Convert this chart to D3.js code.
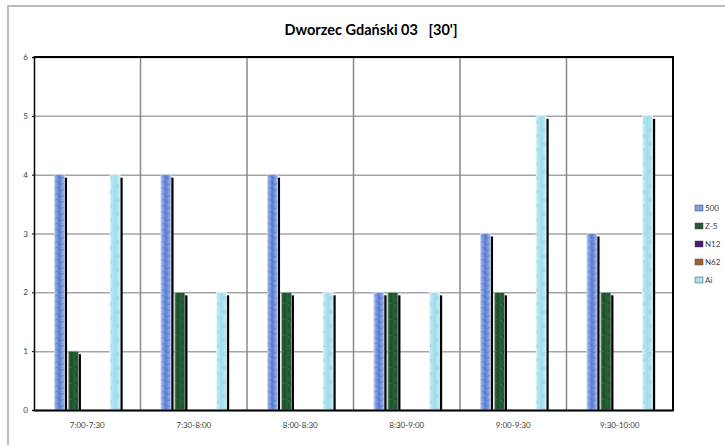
<!DOCTYPE html>
<html>
<head>
<meta charset="utf-8">
<script src="https://cdn.jsdelivr.net/npm/d3@7"></script>
<style>
  html, body { margin: 0; padding: 0; background: #fff; }
  svg { display: block; }
  text { font-family: Lato, "Open Sans", sans-serif; }
</style>
</head>
<body>
<svg id="chart" width="725" height="445"></svg>
<script>
const title = "Dworzec Gdański 03   [30']";
const categories = ["7:00-7:30", "7:30-8:00", "8:00-8:30", "8:30-9:00", "9:00-9:30", "9:30-10:00"];
const seriesNames = ["500", "Z-5", "N12", "N62", "Ai"];
const values500 = [4, 4, 4, 2, 3, 3];
const valuesZ5 = [1, 2, 2, 2, 2, 2];
const valuesN12 = [0, 0, 0, 0, 0, 0];
const valuesN62 = [0, 0, 0, 0, 0, 0];
const valuesAi = [4, 2, 2, 2, 5, 5];
const yTicks = [0, 1, 2, 3, 4, 5, 6];

const seriesValues = [values500, valuesZ5, valuesN12, valuesN62, valuesAi];

const svg = d3.select("#chart");
const W = 725, H = 445;
const plot = { left: 34, right: 673, top: 57, bottom: 410 };

// defs: fills imitating textured bars
const defs = svg.append("defs");
function hGrad(id, stops) {
  const g = defs.append("linearGradient").attr("id", id)
    .attr("x1", "0%").attr("x2", "100%").attr("y1", "0%").attr("y2", "0%");
  stops.forEach(s => g.append("stop").attr("offset", s[0]).attr("stop-color", s[1]));
}
hGrad("g500", [["0%", "#a9c0ee"], ["25%", "#7d9be0"], ["50%", "#5d7fcf"], ["75%", "#7d9be0"], ["100%", "#a9c0ee"]]);
hGrad("gZ5", [["0%", "#2f6e40"], ["30%", "#1d4f2b"], ["60%", "#276238"], ["100%", "#17462a"]]);
hGrad("gN12", [["0%", "#6a3a9a"], ["100%", "#3e1466"]]);
hGrad("gN62", [["0%", "#b8703c"], ["100%", "#8a4a20"]]);
hGrad("gAi", [["0%", "#c4eef6"], ["50%", "#9fdcea"], ["100%", "#c4eef6"]]);

// texture overlays
const p500 = defs.append("pattern").attr("id", "t500").attr("patternUnits", "userSpaceOnUse")
  .attr("width", 10).attr("height", 6);
p500.append("path").attr("d", "M0,3 Q2.5,0 5,3 T10,3").attr("fill", "none")
  .attr("stroke", "#3f63b8").attr("stroke-opacity", 0.35).attr("stroke-width", 1.2);
const pAi = defs.append("pattern").attr("id", "tAi").attr("patternUnits", "userSpaceOnUse")
  .attr("width", 10).attr("height", 14);
pAi.append("circle").attr("cx", 4).attr("cy", 4).attr("r", 1.6).attr("fill", "none")
  .attr("stroke", "#6fbccd").attr("stroke-opacity", 0.6).attr("stroke-width", 0.7);
pAi.append("circle").attr("cx", 7).attr("cy", 10).attr("r", 1.1).attr("fill", "none")
  .attr("stroke", "#6fbccd").attr("stroke-opacity", 0.6).attr("stroke-width", 0.7);
const pZ5 = defs.append("pattern").attr("id", "tZ5").attr("patternUnits", "userSpaceOnUse")
  .attr("width", 10).attr("height", 16);
pZ5.append("path").attr("d", "M1,0 Q6,5 3,9 T8,16").attr("fill", "none")
  .attr("stroke", "#5a9a68").attr("stroke-opacity", 0.45).attr("stroke-width", 0.8);

const fills = { "500": "url(#g500)", "Z-5": "url(#gZ5)", "N12": "url(#gN12)", "N62": "url(#gN62)", "Ai": "url(#gAi)" };
const textures = { "500": "url(#t500)", "Z-5": "url(#tZ5)", "N12": null, "N62": null, "Ai": "url(#tAi)" };
const edges = { "500": "#c8d6f4", "Z-5": "#a8b8ac", "N12": "#9a7ac0", "N62": "#d09a70", "Ai": "#e4f8fc" };
const legendColors = { "500": "#7f9fe0", "Z-5": "#245a33", "N12": "#4a1a78", "N62": "#a0602e", "Ai": "#a8e2ee" };

// outer chart frame
svg.append("rect").attr("x", 8).attr("y", 6).attr("width", 760).attr("height", 480)
  .attr("fill", "none").attr("stroke", "#a6a6a6").attr("stroke-width", 1.5);

// scales
const x0 = d3.scaleBand().domain(categories).range([plot.left, plot.right]).paddingInner(0).paddingOuter(0);
const x1 = d3.scaleBand().domain(seriesNames).range([0, x0.bandwidth()]).paddingInner(0.28).paddingOuter(1.47);
const y = d3.scaleLinear().domain([0, 6]).range([plot.bottom, plot.top]);

// horizontal gridlines
const gy = svg.append("g").attr("transform", `translate(${plot.left},0)`)
  .call(d3.axisLeft(y).tickValues(yTicks).tickSize(-(plot.right - plot.left)).tickFormat(""));
gy.select(".domain").remove();
gy.selectAll("line").attr("stroke", "#a6a6a6").attr("stroke-width", 1.5);

// vertical category gridlines
const gx = svg.append("g").attr("transform", `translate(0,${plot.top})`);
gx.selectAll("line").data(categories.slice(1)).join("line")
  .attr("x1", d => x0(d)).attr("x2", d => x0(d))
  .attr("y1", 0).attr("y2", plot.bottom - plot.top)
  .attr("stroke", "#8a8a8a").attr("stroke-width", 1.5);

// bars
const data = categories.map((c, i) => ({ cat: c, vals: seriesNames.map((s, j) => ({ s, v: seriesValues[j][i] })) }));
const groups = svg.append("g").selectAll("g").data(data).join("g")
  .attr("transform", d => `translate(${x0(d.cat)},0)`);
const bw = x1.bandwidth();
// shadows
groups.selectAll("rect.shadow").data(d => d.vals.filter(v => v.v > 0)).join("rect")
  .attr("class", "shadow")
  .attr("x", d => x1(d.s) + 2.6).attr("y", d => y(d.v) + 3)
  .attr("width", bw).attr("height", d => Math.max(0, y(0) - y(d.v) - 3))
  .attr("fill", "#000");
groups.selectAll("rect.bar").data(d => d.vals).join("rect")
  .attr("class", "bar")
  .attr("x", d => x1(d.s)).attr("y", d => y(d.v))
  .attr("width", bw).attr("height", d => y(0) - y(d.v))
  .attr("fill", d => fills[d.s])
  .attr("stroke", d => d.v > 0 ? edges[d.s] : "none").attr("stroke-width", 0.8);
groups.selectAll("rect.tex").data(d => d.vals.filter(v => v.v > 0 && textures[v.s])).join("rect")
  .attr("class", "tex")
  .attr("x", d => x1(d.s) + 0.5).attr("y", d => y(d.v) + 0.5)
  .attr("width", bw - 1).attr("height", d => y(0) - y(d.v) - 1)
  .attr("fill", d => textures[d.s]);

// plot frame lines: top, right, left axis, bottom axis
svg.append("line").attr("x1", plot.left).attr("x2", plot.right).attr("y1", plot.top).attr("y2", plot.top)
  .attr("stroke", "#000").attr("stroke-width", 2);
svg.append("line").attr("x1", plot.right).attr("x2", plot.right).attr("y1", plot.top - 1).attr("y2", plot.bottom + 1)
  .attr("stroke", "#000").attr("stroke-width", 2);

const yAxis = svg.append("g").attr("transform", `translate(${plot.left},0)`)
  .call(d3.axisLeft(y).tickValues(yTicks).tickSize(2).tickPadding(4).tickFormat(d3.format("d")));
yAxis.select(".domain").attr("stroke", "#000").attr("stroke-width", 1.5);
yAxis.selectAll(".tick line").attr("stroke", "#000");
yAxis.selectAll("text").attr("font-size", 8).attr("fill", "#404040").attr("font-family", "Lato, sans-serif");

const xAxis = svg.append("g").attr("transform", `translate(0,${plot.bottom})`)
  .call(d3.axisBottom(x0).tickSize(0).tickPadding(12));
xAxis.select(".domain").attr("stroke", "#000").attr("stroke-width", 2);
xAxis.selectAll("text").attr("font-size", 8).attr("fill", "#404040").attr("font-family", "Lato, sans-serif");

// title
svg.append("text").attr("x", 371).attr("y", 35).attr("text-anchor", "middle")
  .attr("font-size", 14.5).attr("font-weight", "bold").attr("fill", "#000")
  .style("white-space", "pre").text(title);

// legend
const leg = svg.append("g").attr("transform", "translate(695,208)");
const li = leg.selectAll("g").data(seriesNames).join("g")
  .attr("transform", (d, i) => `translate(0,${i * 18})`);
li.append("rect").attr("x", 0).attr("y", -3).attr("width", 8).attr("height", 6)
  .attr("fill", d => legendColors[d]).attr("stroke", "#444").attr("stroke-width", 0.5);
li.append("text").attr("x", 10).attr("y", 3).attr("font-size", 8).attr("fill", "#404040").text(d => d);
</script>
</body>
</html>
